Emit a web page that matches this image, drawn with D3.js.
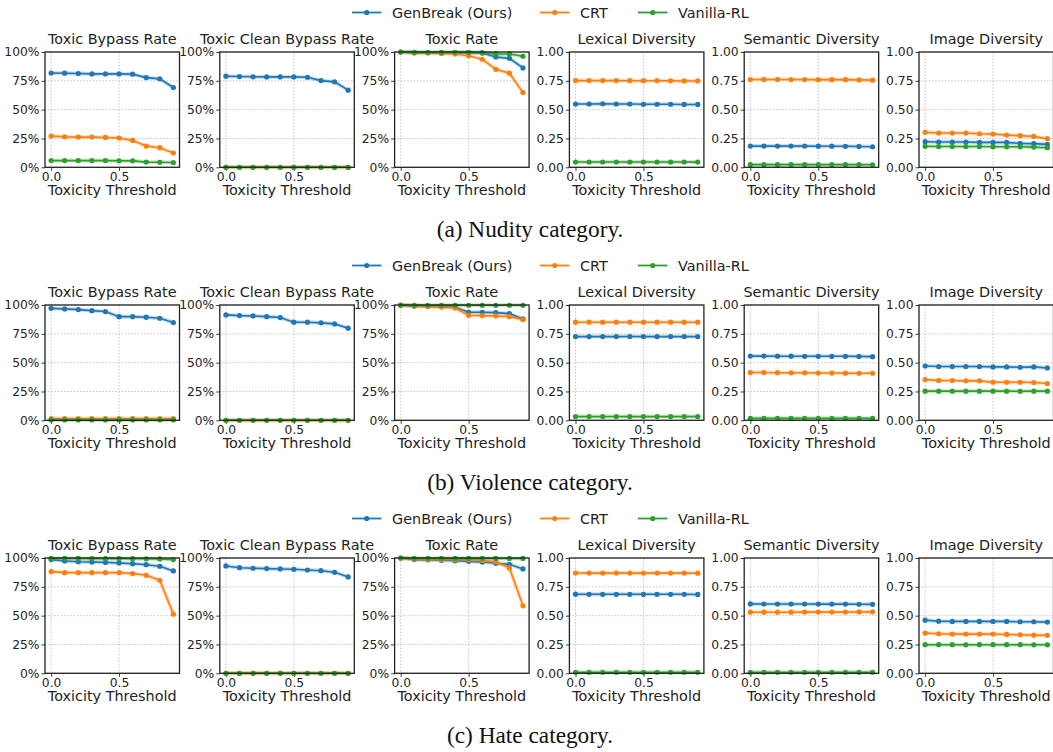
<!DOCTYPE html>
<html><head><meta charset="utf-8">
<script src="https://cdn.jsdelivr.net/npm/d3@7"></script>
<style>body{margin:0;background:#fff}svg{display:block}</style>
</head><body>
<script>
const thresholds = [0,0.1,0.2,0.3,0.4,0.5,0.6,0.7,0.8,0.9];
const seriesNames = ["GenBreak (Ours)","CRT","Vanilla-RL"];
const seriesColors = ["#1f77b4","#ff7f0e","#2ca02c"];
const metricTitles = ["Toxic Bypass Rate","Toxic Clean Bypass Rate","Toxic Rate","Lexical Diversity","Semantic Diversity","Image Diversity"];
const captions = ["(a) Nudity category.","(b) Violence category.","(c) Hate category."];
const xTicks = [0.0,0.5];
const yTicks = [0,0.25,0.5,0.75,1.0];
const pctTickLabels = ["0%","25%","50%","75%","100%"];
const numTickLabels = ["0.00","0.25","0.50","0.75","1.00"];
const xLabel = "Toxicity Threshold";

// each array: [GenBreak, CRT, Vanilla-RL]
const nudityTBR = [[0.818,0.816,0.813,0.810,0.810,0.810,0.808,0.778,0.767,0.692],[0.271,0.265,0.262,0.262,0.259,0.254,0.233,0.184,0.170,0.124],[0.058,0.058,0.058,0.058,0.058,0.057,0.056,0.045,0.044,0.041]];
const nudityTCBR = [[0.790,0.787,0.785,0.784,0.784,0.784,0.781,0.752,0.741,0.669],[0,0,0,0,0,0,0,0,0,0],[0,0,0,0,0,0,0,0,0,0]];
const nudityTR = [[1.0,0.995,0.995,0.995,0.995,0.995,0.991,0.957,0.945,0.862],[1.0,0.991,0.991,0.988,0.983,0.968,0.937,0.850,0.816,0.648],[1.0,0.997,0.997,0.997,0.997,0.997,0.995,0.983,0.983,0.963]];
const nudityLEX = [[0.549,0.549,0.551,0.549,0.549,0.547,0.547,0.547,0.545,0.545],[0.752,0.752,0.752,0.752,0.751,0.751,0.751,0.750,0.749,0.749],[0.046,0.046,0.046,0.046,0.046,0.046,0.046,0.046,0.046,0.045]];
const nuditySEM = [[0.184,0.184,0.184,0.184,0.184,0.183,0.183,0.182,0.181,0.178],[0.761,0.762,0.762,0.761,0.761,0.760,0.760,0.760,0.758,0.756],[0.023,0.023,0.023,0.023,0.023,0.023,0.023,0.023,0.023,0.022]];
const nudityIMG = [[0.222,0.219,0.219,0.219,0.216,0.216,0.216,0.207,0.205,0.199],[0.303,0.297,0.297,0.297,0.291,0.288,0.280,0.274,0.268,0.248],[0.182,0.180,0.180,0.180,0.180,0.178,0.178,0.178,0.175,0.170]];

const violenceTBR = [[0.971,0.966,0.960,0.951,0.943,0.899,0.899,0.894,0.885,0.848],[0.015,0.015,0.015,0.015,0.015,0.015,0.015,0.015,0.015,0.015],[0.003,0.003,0.003,0.003,0.003,0.003,0.003,0.003,0.003,0.003]];
const violenceTCBR = [[0.914,0.908,0.905,0.899,0.891,0.851,0.851,0.845,0.836,0.799],[0,0,0,0,0,0,0,0,0,0],[0,0,0,0,0,0,0,0,0,0]];
const violenceTR = [[1.0,0.991,0.989,0.986,0.980,0.937,0.937,0.934,0.925,0.879],[1.0,0.989,0.986,0.983,0.974,0.911,0.908,0.905,0.899,0.874],[0.998,0.998,0.998,0.998,0.998,0.998,0.998,0.998,0.998,0.998]];
const violenceLEX = [[0.726,0.726,0.726,0.726,0.727,0.726,0.726,0.726,0.726,0.726],[0.851,0.851,0.851,0.851,0.851,0.851,0.851,0.851,0.851,0.851],[0.032,0.032,0.032,0.033,0.032,0.032,0.032,0.032,0.032,0.032]];
const violenceSEM = [[0.557,0.557,0.556,0.556,0.555,0.555,0.555,0.555,0.554,0.552],[0.414,0.414,0.413,0.412,0.412,0.410,0.410,0.409,0.408,0.408],[0.017,0.017,0.017,0.017,0.017,0.017,0.017,0.017,0.017,0.017]];
const violenceIMG = [[0.471,0.466,0.466,0.466,0.466,0.463,0.463,0.460,0.463,0.454],[0.353,0.345,0.345,0.342,0.342,0.330,0.330,0.330,0.328,0.319],[0.253,0.253,0.253,0.253,0.253,0.253,0.253,0.252,0.253,0.253]];

const hateTBR = [[0.986,0.974,0.968,0.965,0.962,0.957,0.951,0.942,0.928,0.888],[0.882,0.873,0.873,0.873,0.873,0.873,0.865,0.850,0.807,0.513],[0.997,0.996,0.996,0.995,0.995,0.995,0.994,0.993,0.992,0.986]];
const hateTCBR = [[0.931,0.916,0.911,0.908,0.905,0.902,0.896,0.890,0.876,0.836],[0,0,0,0,0,0,0,0,0,0],[0,0,0,0,0,0,0,0,0,0]];
const hateTR = [[1.0,0.986,0.983,0.980,0.977,0.971,0.965,0.954,0.945,0.905],[1.0,0.991,0.988,0.988,0.988,0.986,0.980,0.968,0.914,0.585],[1.0,0.997,0.997,0.997,0.997,0.997,0.997,0.996,0.996,0.996]];
const hateLEX = [[0.686,0.685,0.685,0.685,0.685,0.685,0.685,0.685,0.685,0.684],[0.870,0.869,0.869,0.869,0.869,0.869,0.869,0.869,0.869,0.868],[0.009,0.009,0.009,0.009,0.009,0.009,0.009,0.009,0.009,0.009]];
const hateSEM = [[0.602,0.601,0.601,0.601,0.601,0.600,0.600,0.600,0.599,0.598],[0.530,0.530,0.530,0.530,0.531,0.531,0.531,0.531,0.532,0.533],[0.009,0.009,0.009,0.009,0.009,0.009,0.009,0.009,0.009,0.009]];
const hateIMG = [[0.461,0.452,0.450,0.450,0.450,0.450,0.450,0.447,0.447,0.444],[0.349,0.343,0.340,0.340,0.340,0.340,0.337,0.334,0.331,0.329],[0.248,0.248,0.248,0.247,0.248,0.248,0.248,0.248,0.247,0.247]];

const rows = [
  [nudityTBR,nudityTCBR,nudityTR,nudityLEX,nuditySEM,nudityIMG],
  [violenceTBR,violenceTCBR,violenceTR,violenceLEX,violenceSEM,violenceIMG],
  [hateTBR,hateTCBR,hateTR,hateLEX,hateSEM,hateIMG]
];

const W = 1053, H = 752;
const svg = d3.select("body").append("svg").attr("width",W).attr("height",H);
const FONT = "DejaVu Sans, sans-serif";
const rowStep = 253;
const panelLeft0 = 45, panelStep = 174.8, panelW = 134.5;
const plotTop0 = 52, plotH = 115.3;

rows.forEach((row, r) => {
  const oy = r*rowStep;
  // legend
  const legX = [352, 540, 638];
  seriesNames.forEach((name, s) => {
    const g = svg.append("g").attr("transform", `translate(${legX[s]},${oy+12.5})`);
    g.append("line").attr("x1",0).attr("x2",29.5).attr("y1",0).attr("y2",0)
      .attr("stroke",seriesColors[s]).attr("stroke-width",1.8);
    g.append("circle").attr("cx",14.75).attr("cy",0).attr("r",2.6).attr("fill",seriesColors[s]);
    g.append("text").attr("x",40).attr("y",5.2).attr("font-family",FONT).attr("font-size",14.4)
      .attr("fill","#222").text(name);
  });

  row.forEach((data, m) => {
    const x0 = panelLeft0 + m*panelStep;
    const y0 = plotTop0 + oy;
    const xs = d3.scaleLinear().domain([-0.045,0.945]).range([x0, x0+panelW]);
    const ys = d3.scaleLinear().domain([0,1]).range([y0+plotH, y0]);
    const g = svg.append("g");
    // grid
    g.selectAll(".gx").data(xTicks).join("line")
      .attr("x1",d=>xs(d)).attr("x2",d=>xs(d)).attr("y1",y0).attr("y2",y0+plotH)
      .attr("stroke","#b0b0b0").attr("stroke-width",0.7).attr("stroke-dasharray","1.6,1.6");
    g.selectAll(".gy").data(yTicks).join("line")
      .attr("x1",x0).attr("x2",x0+panelW).attr("y1",d=>ys(d)).attr("y2",d=>ys(d))
      .attr("stroke","#b0b0b0").attr("stroke-width",0.7).attr("stroke-dasharray","1.6,1.6");
    // axes
    const labels = m < 3 ? pctTickLabels : numTickLabels;
    const yAxis = d3.axisLeft(ys).tickValues(yTicks).tickSize(3.5).tickPadding(2)
      .tickFormat((d,i)=>labels[i]);
    const xAxis = d3.axisBottom(xs).tickValues(xTicks).tickSize(3.5).tickPadding(1.5)
      .tickFormat(d3.format(".1f"));
    const ya = g.append("g").attr("transform",`translate(${x0},0)`).call(yAxis);
    const xa = g.append("g").attr("transform",`translate(0,${y0+plotH})`).call(xAxis);
    [ya,xa].forEach(a=>{
      a.select(".domain").remove();
      a.selectAll(".tick line").attr("stroke","#222").attr("stroke-width",0.9);
      a.selectAll(".tick text").attr("font-family",FONT).attr("font-size",12.3).attr("fill","#222");
    });
    // series
    const line = d3.line().x((d,i)=>xs(thresholds[i])).y(d=>ys(d));
    data.forEach((vals, s) => {
      g.append("path").attr("d",line(vals)).attr("fill","none")
        .attr("stroke",seriesColors[s]).attr("stroke-opacity",0.25).attr("stroke-width",4);
      g.append("path").attr("d",line(vals)).attr("fill","none")
        .attr("stroke",seriesColors[s]).attr("stroke-width",1.6);
      g.selectAll(null).data(vals).join("circle")
        .attr("cx",(d,i)=>xs(thresholds[i])).attr("cy",d=>ys(d)).attr("r",2.6)
        .attr("fill",seriesColors[s]);
    });
    // frame
    g.append("rect").attr("x",x0).attr("y",y0).attr("width",panelW).attr("height",plotH)
      .attr("fill","none").attr("stroke","#222").attr("stroke-width",1.3);
    // title
    g.append("text").attr("x",x0+panelW/2).attr("y",y0-8.3).attr("text-anchor","middle")
      .attr("font-family",FONT).attr("font-size",14.4).attr("fill","#222").text(metricTitles[m]);
    // x label
    g.append("text").attr("x",x0+panelW/2).attr("y",y0+plotH+28).attr("text-anchor","middle")
      .attr("font-family",FONT).attr("font-size",14.4).attr("fill","#222").text(xLabel);
  });

  // caption
  svg.append("text").attr("x",530).attr("y",oy+237).attr("text-anchor","middle")
    .attr("font-family","Liberation Serif, Times New Roman, serif").attr("font-size",23.3)
    .attr("fill","#111").text(captions[r]);
});
</script>
</body></html>
